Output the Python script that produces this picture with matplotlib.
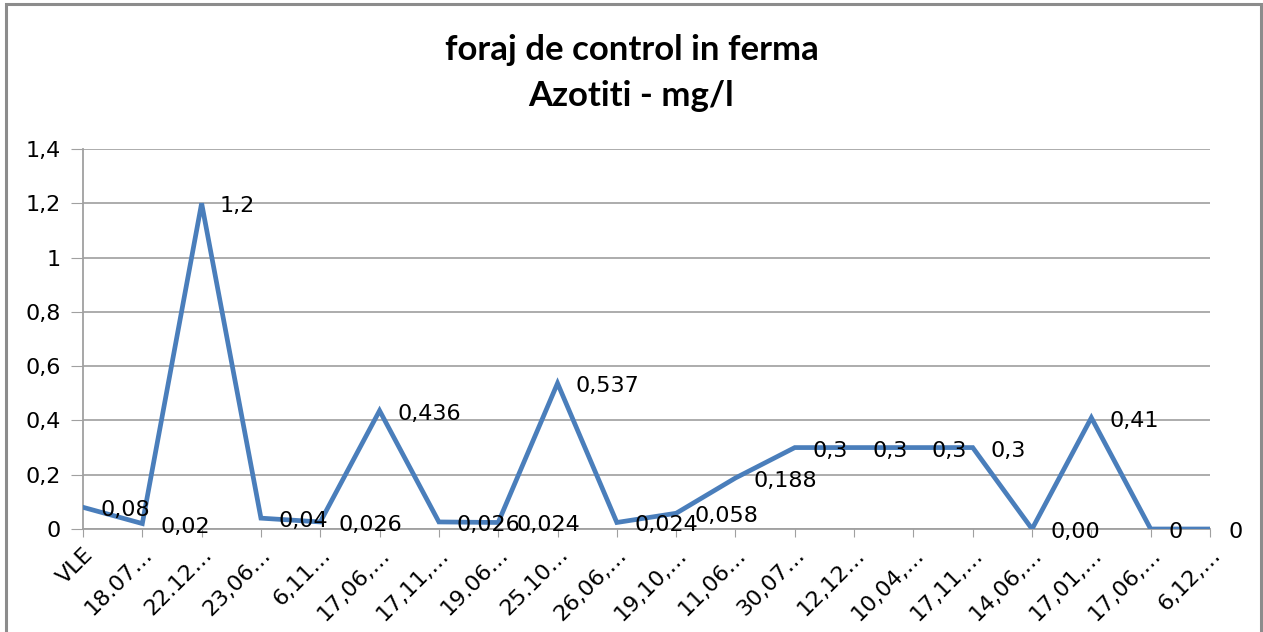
import matplotlib
matplotlib.use("Agg")
import matplotlib.pyplot as plt
from matplotlib.patches import Rectangle

categories = ["VLE", "18.07…", "22.12…", "23,06…", "6,11…", "17,06,…", "17,11,…",
              "19.06…", "25.10…", "26,06,…", "19,10,…", "11,06…", "30,07…",
              "12,12…", "10,04,…", "17,11,…", "14,06,…", "17,01,…", "17,06,…", "6,12,…"]
values = [0.08, 0.02, 1.2, 0.04, 0.026, 0.436, 0.026, 0.024, 0.537, 0.024,
          0.058, 0.188, 0.3, 0.3, 0.3, 0.3, 0.0, 0.41, 0.0, 0.0]
value_labels = ["0,08", "0,02", "1,2", "0,04", "0,026", "0,436", "0,026", "0,024",
                "0,537", "0,024", "0,058", "0,188", "0,3", "0,3", "0,3", "0,3",
                "0,00", "0,41", "0", "0"]
yticks = [0, 0.2, 0.4, 0.6, 0.8, 1.0, 1.2, 1.4]
ytick_labels = ["0", "0,2", "0,4", "0,6", "0,8", "1", "1,2", "1,4"]
title = "foraj de control in ferma\nAzotiti - mg/l"

plt.rcParams['font.family'] = ['DejaVu Sans']
LABEL_FS = 16

W, H = 1263, 632
fig = plt.figure(figsize=(W / 100, H / 100), dpi=100)
fig.patch.set_facecolor("white")

# outer chart frame
fig.patches.append(Rectangle((6 / W, -0.02), (1261 - 6) / W, (H - 4) / H + 0.02,
                             transform=fig.transFigure, fill=False,
                             edgecolor="#8c8c8c", linewidth=2.2))

ax = fig.add_axes([83 / W, 1 - 529 / H, (1210 - 83) / W, (529 - 149) / H])
x = list(range(len(categories)))
ax.plot(x, values, color="#4a7ebb", linewidth=3.4, solid_joinstyle="miter", zorder=3)

for xi, v, lab in zip(x, values, value_labels):
    ax.annotate(lab, (xi, v), xytext=(18, -3), textcoords="offset pixels",
                ha="left", va="center", fontsize=LABEL_FS, color="black", zorder=4,
                annotation_clip=False)

ax.set_xlim(0, len(categories) - 1)
ax.set_ylim(0, 1.4)
ax.set_yticks(yticks)
ax.set_yticklabels(ytick_labels, fontsize=LABEL_FS)
ax.set_xticks(x)
ax.set_xticklabels(categories, rotation=45, ha="right", rotation_mode="anchor",
                   fontsize=LABEL_FS)
ax.tick_params(axis="y", length=9, color="#a0a0a0", pad=7)
ax.tick_params(axis="x", length=6, color="#a0a0a0", pad=5)
ax.grid(axis="y", color="#a6a6a6", linewidth=1.3)
ax.set_axisbelow(True)
for s in ["top", "right"]:
    ax.spines[s].set_visible(False)
for s in ["left", "bottom"]:
    ax.spines[s].set_color("#a0a0a0")
    ax.spines[s].set_linewidth(1.3)

fig.text(0.5, 1 - 73 / H, title, ha="center", va="center", fontsize=25,
         fontweight="bold", linespacing=1.55, family=['Lato', 'DejaVu Sans'])

fig.savefig("out.png", dpi=100)
